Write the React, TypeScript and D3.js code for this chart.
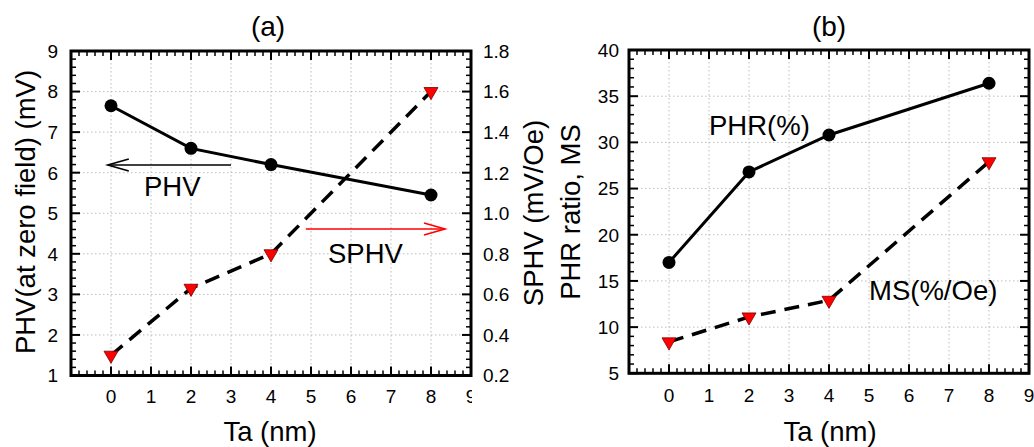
import React from "react";
import * as d3 from "d3";

// Ta thickness (nm) shared by both panels
const ta = [0, 2, 4, 8];

// Panel (a): planar Hall voltage at zero field (left axis) and its sensitivity (right axis)
const phv = [7.65, 6.6, 6.2, 5.45];
const sphv = [0.3, 0.63, 0.8, 1.6];

// Panel (b): PHR ratio and MS
const phr = [17, 26.8, 30.8, 36.4];
const ms = [8.4, 11.1, 12.9, 27.9];

// Tick labels
const xTickLabels = [0, 1, 2, 3, 4, 5, 6, 7, 8, 9];
const phvTicks = [1, 2, 3, 4, 5, 6, 7, 8, 9];
const sphvTicks = ["0.2", "0.4", "0.6", "0.8", "1.0", "1.2", "1.4", "1.6", "1.8"];
const phrTicks = [5, 10, 15, 20, 25, 30, 35, 40];

const FONT = "'Liberation Sans', Arial, Helvetica, sans-serif";
const LABEL = 27.5;
const TICK = 19;

type Box = { left: number; right: number; top: number; bottom: number };

function Frame({
  box,
  x,
  y,
  yMajor,
  yMinor,
  id,
}: {
  box: Box;
  x: d3.ScaleLinear<number, number>;
  y: d3.ScaleLinear<number, number>;
  yMajor: number[];
  yMinor: number[];
  id: string;
}) {
  const xMajor = d3.range(-1, 10, 1);
  const xMinor = d3.range(-1, 9.001, 0.2).filter((v) => Math.abs(v - Math.round(v)) > 1e-6);
  const MAJ = 9;
  const MIN = 5;
  return (
    <g>
      {/* dotted grid */}
      {xMajor
        .filter((v) => v > -1 && v < 9)
        .map((v) => (
          <line key={`gx${id}${v}`} x1={x(v)} x2={x(v)} y1={box.top} y2={box.bottom}
            stroke="#bdbdbd" strokeWidth={1} strokeDasharray="1.5 2.5" />
        ))}
      {yMajor.slice(1, -1).map((v) => (
        <line key={`gy${id}${v}`} x1={box.left} x2={box.right} y1={y(v)} y2={y(v)}
          stroke="#bdbdbd" strokeWidth={1} strokeDasharray="1.5 2.5" />
      ))}
      {/* ticks on all four sides, pointing inward */}
      {xMajor.map((v) => (
        <g key={`tx${id}${v}`}>
          <line x1={x(v)} x2={x(v)} y1={box.bottom} y2={box.bottom - MAJ} stroke="#000" strokeWidth={2} />
          <line x1={x(v)} x2={x(v)} y1={box.top} y2={box.top + MAJ} stroke="#000" strokeWidth={2} />
        </g>
      ))}
      {xMinor.map((v, i) => (
        <g key={`mx${id}${i}`}>
          <line x1={x(v)} x2={x(v)} y1={box.bottom} y2={box.bottom - MIN} stroke="#000" strokeWidth={1.5} />
          <line x1={x(v)} x2={x(v)} y1={box.top} y2={box.top + MIN} stroke="#000" strokeWidth={1.5} />
        </g>
      ))}
      {yMajor.map((v) => (
        <g key={`ty${id}${v}`}>
          <line x1={box.left} x2={box.left + MAJ} y1={y(v)} y2={y(v)} stroke="#000" strokeWidth={2} />
          <line x1={box.right} x2={box.right - MAJ} y1={y(v)} y2={y(v)} stroke="#000" strokeWidth={2} />
        </g>
      ))}
      {yMinor.map((v, i) => (
        <g key={`my${id}${i}`}>
          <line x1={box.left} x2={box.left + MIN} y1={y(v)} y2={y(v)} stroke="#000" strokeWidth={1.5} />
          <line x1={box.right} x2={box.right - MIN} y1={y(v)} y2={y(v)} stroke="#000" strokeWidth={1.5} />
        </g>
      ))}
      <rect x={box.left} y={box.top} width={box.right - box.left} height={box.bottom - box.top}
        fill="none" stroke="#000" strokeWidth={3} />
    </g>
  );
}

function Circles({ xs, ys, x, y }: { xs: number[]; ys: number[]; x: any; y: any }) {
  return (
    <g>
      {xs.map((v, i) => (
        <circle key={i} cx={x(v)} cy={y(ys[i])} r={6.5} fill="#000" />
      ))}
    </g>
  );
}

function Triangles({ xs, ys, x, y }: { xs: number[]; ys: number[]; x: any; y: any }) {
  const sym = d3.symbol().type(d3.symbolTriangle).size(85)();
  return (
    <g>
      {xs.map((v, i) => (
        <path key={i} d={sym as string} transform={`translate(${x(v)},${y(ys[i])}) rotate(180)`}
          fill="#ff0000" stroke="#7a0000" strokeWidth={0.8} />
      ))}
    </g>
  );
}

function Arrow({ x1, x2, yv, color }: { x1: number; x2: number; yv: number; color: string }) {
  const dir = x2 > x1 ? 1 : -1;
  const head = 21;
  return (
    <g stroke={color} strokeWidth={1.6} fill="none">
      <line x1={x1} x2={x2} y1={yv} y2={yv} />
      <polyline points={`${x2 - dir * head},${yv - 6} ${x2},${yv} ${x2 - dir * head},${yv + 6}`} />
    </g>
  );
}

export default function App() {
  // ----- panel (a)
  const boxA: Box = { left: 71, right: 471, top: 51, bottom: 375.5 };
  const xA = d3.scaleLinear().domain([-1, 9]).range([boxA.left, boxA.right]);
  const yA = d3.scaleLinear().domain([1, 9]).range([boxA.bottom, boxA.top]);
  const yA2 = d3.scaleLinear().domain([0.2, 1.8]).range([boxA.bottom, boxA.top]);
  const yAMinor = d3.range(1, 9.001, 0.2).filter((v) => Math.abs(v - Math.round(v)) > 1e-6);

  // ----- panel (b)
  const boxB: Box = { left: 629, right: 1029, top: 50, bottom: 373.3 };
  const xB = d3.scaleLinear().domain([-1, 9]).range([boxB.left, boxB.right]);
  const yB = d3.scaleLinear().domain([5, 40]).range([boxB.bottom, boxB.top]);
  const yBMinor = d3.range(5, 40.001, 1).filter((v) => v % 5 !== 0);

  const lineA1 = d3.line<number>().x((d, i) => xA(ta[i])).y((d) => yA(d))(phv) as string;
  const lineA2 = d3.line<number>().x((d, i) => xA(ta[i])).y((d) => yA2(d))(sphv) as string;
  const lineB1 = d3.line<number>().x((d, i) => xB(ta[i])).y((d) => yB(d))(phr) as string;
  const lineB2 = d3.line<number>().x((d, i) => xB(ta[i])).y((d) => yB(d))(ms) as string;

  return (
    <svg width={1034} height={447} style={{ position: "absolute", left: 0, top: 0, background: "#fff" }}
      fontFamily={FONT}>
      <defs>
        <clipPath id="clipAx">
          <rect x={0} y={0} width={472} height={447} />
        </clipPath>
      </defs>
      <rect x={0} y={0} width={1034} height={447} fill="#fff" />

      {/* ================= (a) ================= */}
      <text x={268} y={36} fontSize={28} textAnchor="middle">(a)</text>
      <Frame box={boxA} x={xA} y={yA} yMajor={phvTicks} yMinor={yAMinor} id="a" />
      {phvTicks.map((v) => (
        <text key={`la${v}`} x={58} y={yA(v)} dy="0.36em" fontSize={TICK} textAnchor="end">{v}</text>
      ))}
      {sphvTicks.map((v) => (
        <text key={`ra${v}`} x={483} y={yA2(+v)} dy="0.36em" fontSize={TICK} textAnchor="start">{v}</text>
      ))}
      <g clipPath="url(#clipAx)">
        {xTickLabels.map((v) => (
          <text key={`ba${v}`} x={xA(v)} y={403} fontSize={TICK} textAnchor="middle">{v}</text>
        ))}
      </g>
      <text x={270} y={441} fontSize={LABEL} textAnchor="middle">Ta (nm)</text>
      <text transform={`translate(35,212) rotate(-90)`} fontSize={LABEL} textAnchor="middle">
        PHV(at zero field) (mV)
      </text>
      <text transform={`translate(543,213) rotate(-90)`} fontSize={LABEL} textAnchor="middle">
        SPHV (mV/Oe)
      </text>

      <path d={lineA1} fill="none" stroke="#000" strokeWidth={3} />
      <path d={lineA2} fill="none" stroke="#000" strokeWidth={3.5} strokeDasharray="15 9" />
      <Circles xs={ta} ys={phv} x={xA} y={yA} />
      <Triangles xs={ta} ys={sphv} x={xA} y={yA2} />

      <Arrow x1={xA(3)} x2={xA(-0.08)} yv={yA(6.19)} color="#000" />
      <text x={144} y={196} fontSize={LABEL}>PHV</text>
      <Arrow x1={xA(4.87)} x2={xA(8.35)} yv={yA(4.61)} color="#ff0000" />
      <text x={328} y={263} fontSize={LABEL}>SPHV</text>

      {/* ================= (b) ================= */}
      <text x={829} y={36} fontSize={28} textAnchor="middle">(b)</text>
      <Frame box={boxB} x={xB} y={yB} yMajor={phrTicks} yMinor={yBMinor} id="b" />
      {phrTicks.map((v) => (
        <text key={`lb${v}`} x={619} y={yB(v)} dy="0.36em" fontSize={TICK} textAnchor="end">{v}</text>
      ))}
      {xTickLabels.map((v) => (
        <text key={`bb${v}`} x={xB(v)} y={402} fontSize={TICK} textAnchor="middle">{v}</text>
      ))}
      <text x={830} y={441} fontSize={LABEL} textAnchor="middle">Ta (nm)</text>
      <text transform={`translate(580,212) rotate(-90)`} fontSize={LABEL} textAnchor="middle">
        PHR ratio, MS
      </text>

      <path d={lineB1} fill="none" stroke="#000" strokeWidth={3} />
      <path d={lineB2} fill="none" stroke="#000" strokeWidth={3.5} strokeDasharray="15 9" />
      <Circles xs={ta} ys={phr} x={xB} y={yB} />
      <Triangles xs={ta} ys={ms} x={xB} y={yB} />

      <text x={709} y={135} fontSize={LABEL}>PHR(%)</text>
      <text x={869} y={300} fontSize={LABEL}>MS(%/Oe)</text>
    </svg>
  );
}
